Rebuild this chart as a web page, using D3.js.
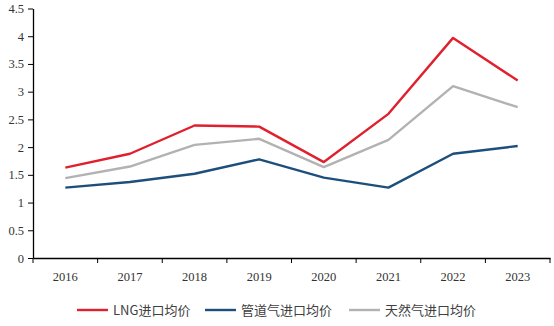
<!DOCTYPE html>
<html><head><meta charset="utf-8">
<script src="https://cdn.jsdelivr.net/npm/d3@7"></script>
<style>body{margin:0;background:#fff}svg{display:block}</style>
</head><body>
<svg id="c" width="554" height="326"></svg>
<script>
const years = ["2016","2017","2018","2019","2020","2021","2022","2023"];
const lngPrice = [1.63,1.88,2.39,2.37,1.73,2.60,3.97,3.20];
const pipePrice = [1.27,1.37,1.52,1.78,1.45,1.27,1.88,2.02];
const gasPrice = [1.44,1.65,2.04,2.15,1.64,2.13,3.10,2.72];
const seriesNames = ["LNG进口均价","管道气进口均价","天然气进口均价"];
const yTicks = [0,0.5,1,1.5,2,2.5,3,3.5,4,4.5];

const series = [
  {name: seriesNames[0], values: lngPrice, color: "#e0202e"},
  {name: seriesNames[1], values: pipePrice, color: "#1d4f7c"},
  {name: seriesNames[2], values: gasPrice, color: "#b2b2b2"}
];

const svg = d3.select("#c");
const mLeft = 33, mRight = 550, mTop = 8.5, mBottom = 258;
const x = d3.scaleBand().domain(years).range([mLeft, mRight]).padding(0);
const y = d3.scaleLinear().domain([0, 4.5]).range([mBottom, mTop]);

const serif = "'Liberation Serif','Times New Roman',serif";

// Y axis
const ya = svg.append("g").attr("transform", `translate(${mLeft},0)`)
  .call(d3.axisLeft(y).tickValues(yTicks).tickFormat(d => d).tickSize(5).tickSizeOuter(0));
ya.select(".domain").attr("stroke", "#000").attr("stroke-width", 1.3);
ya.selectAll(".tick line").attr("stroke", "#000").attr("stroke-width", 1);
ya.selectAll("text").attr("font-family", serif).attr("font-size", 12.5).attr("fill", "#333").attr("dx", -1);

// X axis
const xa = svg.append("g").attr("transform", `translate(0,${mBottom})`)
  .call(d3.axisBottom(x).tickSize(0).tickSizeOuter(0));
xa.select(".domain").attr("stroke", "#000").attr("stroke-width", 1.5);
xa.selectAll("text").attr("font-family", serif).attr("font-size", 12.5).attr("fill", "#333").attr("dy", "1.6em");
const bounds = years.map(d => x(d)).concat([x(years[years.length-1]) + x.bandwidth()]);
xa.selectAll(".btick").data(bounds).enter().append("line")
  .attr("x1", d => d).attr("x2", d => d).attr("y1", 0).attr("y2", 5)
  .attr("stroke", "#000").attr("stroke-width", 1);

// Lines
const line = d3.line().x((d, i) => x(years[i]) + x.bandwidth() / 2).y(d => y(d));
[series[2], series[1], series[0]].forEach(s => {
  svg.append("path").datum(s.values).attr("d", line)
    .attr("fill", "none").attr("stroke", s.color).attr("stroke-width", 2.4)
    .attr("stroke-linejoin", "round");
});

// Legend
const sans = "'Noto Sans CJK SC','Noto Sans',sans-serif";
const legendX = [77, 205, 349];
const lg = svg.append("g");
series.forEach((s, i) => {
  const g = lg.append("g").attr("transform", `translate(${legendX[i]},310)`);
  g.append("line").attr("x1", 0).attr("x2", 31).attr("y1", 0).attr("y2", 0)
    .attr("stroke", s.color).attr("stroke-width", 2.4);
  g.append("text").attr("x", 36).attr("y", 0).attr("dy", "0.35em")
    .attr("font-family", sans).attr("font-size", 13).attr("fill", "#404040").text(s.name);
});
</script>
</body></html>
